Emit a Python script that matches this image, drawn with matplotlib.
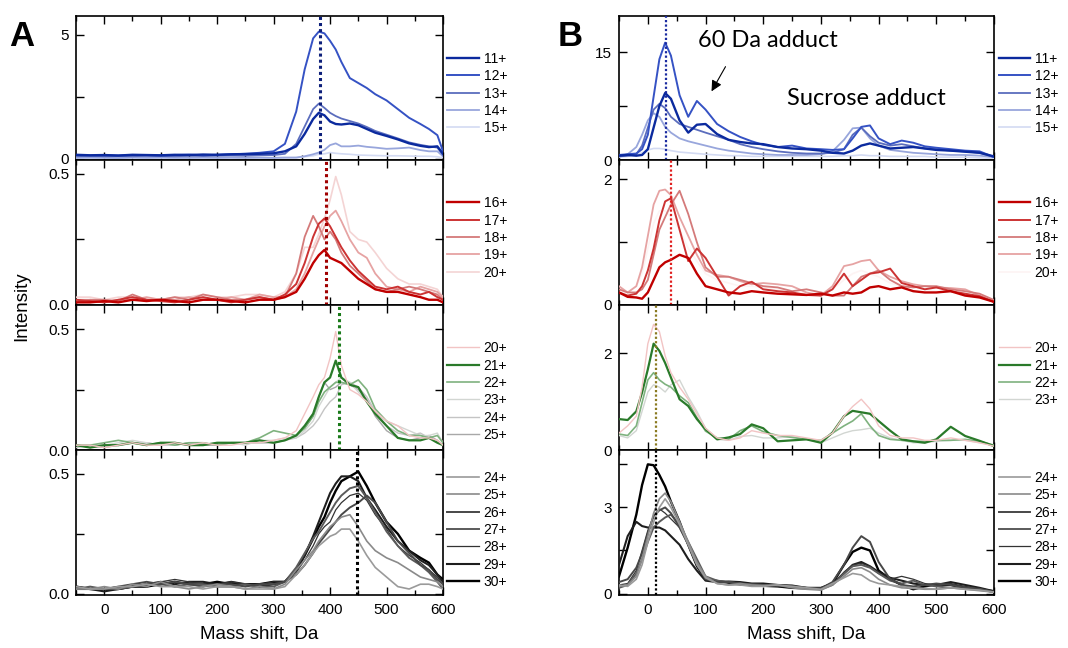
import matplotlib.pyplot as plt
from matplotlib.ticker import MultipleLocator

plt.rcParams['font.family'] = ['Liberation Sans', 'DejaVu Sans']

# mass shift grids (Da)
mass_a = [-50, -25, 0, 25, 50, 75, 100, 125, 150, 175, 200, 225, 250, 275, 300,
          320, 340, 355, 370, 380, 390, 400, 410, 420, 435, 450, 465, 480, 500,
          520, 540, 560, 575, 590, 600]
mass_b = [-50, -35, -20, -10, 0, 10, 20, 30, 40, 55, 70, 85, 100, 120, 140, 160,
          180, 200, 225, 250, 275, 300, 320, 340, 355, 370, 385, 400, 420, 440,
          460, 480, 500, 525, 550, 575, 600]

# ---- panel A ----
a_11 = [0.16, 0.14, 0.15, 0.13, 0.16, 0.15, 0.14, 0.16, 0.15, 0.17, 0.16, 0.18, 0.19, 0.2, 0.22,
        0.3, 0.5, 1.0, 1.6, 1.85, 1.75, 1.5, 1.4, 1.38, 1.42, 1.35, 1.2, 1.05, 0.92, 0.78, 0.62, 0.52, 0.47, 0.5, 0.2]
a_12 = [0.15, 0.13, 0.14, 0.13, 0.15, 0.14, 0.13, 0.15, 0.17, 0.14, 0.16, 0.18, 0.2, 0.24, 0.3,
        0.6, 1.9, 3.6, 4.85, 5.12, 5.05, 4.75, 4.4, 3.9, 3.25, 3.05, 2.85, 2.6, 2.35, 2.0, 1.65, 1.4, 1.2, 0.95, 0.3]
a_13 = [0.1, 0.12, 0.1, 0.11, 0.1, 0.12, 0.11, 0.1, 0.12, 0.11, 0.12, 0.13, 0.12, 0.14, 0.15,
        0.2, 0.6, 1.3, 2.0, 2.22, 2.05, 1.85, 1.72, 1.62, 1.52, 1.42, 1.28, 1.12, 0.97, 0.82, 0.66, 0.56, 0.5, 0.45, 0.15]
a_14 = [0.04, 0.05, 0.04, 0.03, 0.05, 0.04, 0.05, 0.04, 0.04, 0.05, 0.04, 0.05, 0.04, 0.05, 0.04,
        0.05, 0.05, 0.1, 0.18, 0.25, 0.36, 0.55, 0.62, 0.5, 0.5, 0.53, 0.48, 0.45, 0.4, 0.42, 0.45, 0.35, 0.3, 0.3, 0.1]
a_15 = [0.03, 0.02, 0.03, 0.02, 0.03, 0.02, 0.03, 0.02, 0.03, 0.02, 0.03, 0.02, 0.03, 0.02, 0.03,
        0.03, 0.04, 0.08, 0.12, 0.18, 0.2, 0.25, 0.22, 0.2, 0.18, 0.15, 0.14, 0.13, 0.12, 0.12, 0.11, 0.1, 0.1, 0.08, 0.04]

a_16 = [0.01, 0.01, 0.015, 0.01, 0.02, 0.015, 0.02, 0.015, 0.01, 0.02, 0.02, 0.015, 0.01, 0.02, 0.02,
        0.03, 0.05, 0.1, 0.16, 0.19, 0.21, 0.18, 0.17, 0.16, 0.13, 0.1, 0.08, 0.06, 0.05, 0.05, 0.04, 0.03, 0.02, 0.02, 0.01]
a_17 = [0.02, 0.015, 0.01, 0.02, 0.03, 0.02, 0.015, 0.01, 0.02, 0.03, 0.02, 0.01, 0.02, 0.03, 0.02,
        0.04, 0.08, 0.16, 0.26, 0.31, 0.33, 0.3, 0.26, 0.22, 0.17, 0.13, 0.1, 0.07, 0.06, 0.07, 0.05, 0.04, 0.05, 0.03, 0.02]
a_18 = [0.01, 0.02, 0.02, 0.015, 0.04, 0.02, 0.02, 0.03, 0.02, 0.04, 0.03, 0.02, 0.02, 0.03, 0.02,
        0.03, 0.12, 0.26, 0.34, 0.3, 0.25, 0.28, 0.25, 0.2, 0.15, 0.12, 0.09, 0.06, 0.05, 0.06, 0.07, 0.06, 0.05, 0.04, 0.02]
a_19 = [0.02, 0.02, 0.01, 0.02, 0.02, 0.03, 0.02, 0.02, 0.03, 0.02, 0.02, 0.03, 0.02, 0.04, 0.03,
        0.03, 0.06, 0.12, 0.2, 0.25, 0.3, 0.34, 0.36, 0.32, 0.25, 0.2, 0.18, 0.12, 0.07, 0.06, 0.05, 0.07, 0.06, 0.05, 0.03]
a_20r = [0.03, 0.03, 0.02, 0.03, 0.03, 0.02, 0.02, 0.03, 0.03, 0.04, 0.03, 0.03, 0.04, 0.04, 0.03,
         0.05, 0.12, 0.22, 0.22, 0.27, 0.33, 0.4, 0.49, 0.42, 0.28, 0.25, 0.24, 0.2, 0.14, 0.1, 0.08, 0.08, 0.07, 0.06, 0.03]

a_20g = [0.02, 0.02, 0.01, 0.02, 0.03, 0.02, 0.02, 0.03, 0.02, 0.03, 0.02, 0.02, 0.03, 0.03, 0.04,
         0.05, 0.08, 0.15, 0.22, 0.27, 0.3, 0.38, 0.49, 0.35, 0.25, 0.23, 0.2, 0.16, 0.12, 0.1, 0.06, 0.05, 0.05, 0.04, 0.02]
a_21 = [0.02, 0.01, 0.02, 0.02, 0.03, 0.02, 0.03, 0.03, 0.02, 0.02, 0.03, 0.03, 0.03, 0.04, 0.03,
        0.04, 0.06, 0.1, 0.15, 0.22, 0.28, 0.3, 0.37, 0.3, 0.27, 0.26, 0.2, 0.15, 0.1, 0.05, 0.04, 0.04, 0.05, 0.03, 0.02]
a_22 = [0.02, 0.02, 0.03, 0.04, 0.03, 0.02, 0.03, 0.02, 0.03, 0.03, 0.02, 0.03, 0.03, 0.05, 0.08,
        0.07, 0.06, 0.09, 0.14, 0.2, 0.24, 0.26, 0.28, 0.28, 0.27, 0.29, 0.25, 0.17, 0.12, 0.08, 0.06, 0.06, 0.05, 0.06, 0.03]
a_23 = [0.02, 0.01, 0.02, 0.03, 0.04, 0.03, 0.02, 0.02, 0.03, 0.02, 0.03, 0.03, 0.02, 0.04, 0.04,
        0.05, 0.05, 0.08, 0.12, 0.18, 0.22, 0.26, 0.28, 0.3, 0.28, 0.24, 0.2, 0.15, 0.12, 0.1, 0.08, 0.06, 0.06, 0.07, 0.03]
a_24g = [0.01, 0.02, 0.02, 0.02, 0.03, 0.03, 0.02, 0.03, 0.02, 0.03, 0.02, 0.03, 0.03, 0.03, 0.03,
         0.04, 0.05, 0.07, 0.1, 0.13, 0.17, 0.2, 0.22, 0.27, 0.28, 0.26, 0.22, 0.16, 0.1, 0.07, 0.06, 0.07, 0.05, 0.04, 0.02]
a_25g = [0.02, 0.02, 0.01, 0.02, 0.03, 0.03, 0.02, 0.02, 0.03, 0.02, 0.02, 0.03, 0.03, 0.03, 0.03,
         0.04, 0.06, 0.09, 0.14, 0.22, 0.28, 0.25, 0.26, 0.28, 0.27, 0.25, 0.21, 0.14, 0.08, 0.05, 0.04, 0.05, 0.06, 0.04, 0.02]

a_24 = [0.03, 0.02, 0.02, 0.03, 0.03, 0.04, 0.03, 0.03, 0.03, 0.02, 0.03, 0.03, 0.02, 0.02, 0.02,
        0.03, 0.08, 0.12, 0.17, 0.2, 0.22, 0.24, 0.25, 0.27, 0.27, 0.22, 0.16, 0.11, 0.07, 0.03, 0.02, 0.04, 0.04, 0.03, 0.02]
a_25 = [0.02, 0.02, 0.03, 0.02, 0.04, 0.03, 0.05, 0.03, 0.02, 0.03, 0.04, 0.03, 0.02, 0.03, 0.02,
        0.04, 0.1, 0.14, 0.18, 0.22, 0.25, 0.28, 0.3, 0.32, 0.33, 0.28, 0.22, 0.18, 0.15, 0.13, 0.1, 0.07, 0.06, 0.05, 0.03]
a_26 = [0.03, 0.02, 0.02, 0.03, 0.04, 0.05, 0.04, 0.05, 0.04, 0.03, 0.04, 0.04, 0.03, 0.04, 0.04,
        0.05, 0.08, 0.12, 0.17, 0.21, 0.24, 0.27, 0.3, 0.33, 0.36, 0.38, 0.41, 0.38, 0.3, 0.22, 0.17, 0.12, 0.1, 0.06, 0.04]
a_27 = [0.02, 0.03, 0.02, 0.02, 0.03, 0.04, 0.04, 0.03, 0.04, 0.04, 0.03, 0.03, 0.04, 0.03, 0.03,
        0.05, 0.11, 0.17, 0.23, 0.26, 0.3, 0.34, 0.38, 0.41, 0.44, 0.45, 0.4, 0.34, 0.26, 0.2, 0.15, 0.12, 0.09, 0.05, 0.02]
a_28 = [0.03, 0.02, 0.02, 0.03, 0.03, 0.03, 0.05, 0.06, 0.05, 0.04, 0.04, 0.05, 0.04, 0.04, 0.05,
        0.05, 0.09, 0.14, 0.2, 0.25, 0.28, 0.3, 0.35, 0.38, 0.41, 0.42, 0.39, 0.33, 0.27, 0.2, 0.16, 0.13, 0.1, 0.07, 0.04]
a_29 = [0.02, 0.02, 0.01, 0.02, 0.03, 0.04, 0.05, 0.04, 0.05, 0.05, 0.04, 0.05, 0.04, 0.03, 0.04,
        0.05, 0.1, 0.16, 0.24, 0.3, 0.36, 0.42, 0.46, 0.49, 0.49, 0.47, 0.4, 0.35, 0.28, 0.22, 0.18, 0.14, 0.12, 0.08, 0.05]
a_30 = [0.03, 0.02, 0.02, 0.02, 0.03, 0.03, 0.04, 0.05, 0.04, 0.04, 0.05, 0.04, 0.04, 0.04, 0.05,
        0.05, 0.1, 0.16, 0.23, 0.28, 0.32, 0.38, 0.43, 0.47, 0.49, 0.51, 0.45, 0.38, 0.3, 0.25, 0.18, 0.15, 0.13, 0.08, 0.06]

# ---- panel B ----
b_11 = [0.6, 0.7, 0.6, 0.7, 1.5, 4.5, 7.5, 9.3, 8.5, 5.5, 3.8, 4.9, 5.0, 3.6, 2.8, 2.5, 2.3, 2.2, 1.8,
        1.6, 1.5, 1.3, 1.0, 0.9, 1.3, 2.0, 2.3, 2.0, 1.6, 1.7, 1.8, 1.6, 1.4, 1.3, 1.15, 1.0, 0.5]
b_12 = [0.7, 0.8, 0.9, 1.5, 3.5, 8.8, 14.0, 16.3, 14.5, 9.0, 6.0, 8.2, 7.0, 5.0, 4.0, 3.2, 2.6, 2.1, 1.8,
        2.0, 1.6, 1.5, 1.4, 1.5, 3.0, 4.6, 4.8, 3.0, 2.2, 2.7, 2.4, 1.9, 1.7, 1.5, 1.3, 1.2, 0.4]
b_13 = [0.5, 0.6, 0.8, 2.0, 4.5, 7.0, 7.8, 7.2, 6.0, 5.0, 4.6, 4.2, 3.8, 3.3, 2.8, 2.2, 1.8, 1.5, 1.2,
        1.0, 0.9, 0.9, 1.0, 1.5, 3.5, 4.5, 3.3, 2.4, 2.0, 2.2, 1.9, 1.6, 1.5, 1.3, 1.2, 1.0, 0.4]
b_14 = [0.5, 0.8, 1.8, 3.5, 5.5, 6.5, 6.0, 4.6, 3.8, 3.0, 2.6, 2.3, 2.0, 1.6, 1.3, 1.1, 0.9, 0.8, 0.7,
        0.7, 0.7, 0.8, 1.2, 2.8, 4.4, 4.5, 3.0, 2.0, 1.4, 1.2, 1.0, 0.9, 0.8, 0.7, 0.7, 0.6, 0.4]
b_15 = [0.4, 0.5, 0.7, 1.0, 1.4, 1.6, 1.6, 1.5, 1.3, 1.1, 1.0, 0.9, 0.8, 0.7, 0.6, 0.6, 0.5, 0.5, 0.5,
        0.5, 0.5, 0.5, 0.5, 0.6, 0.6, 0.7, 0.6, 0.6, 0.5, 0.5, 0.5, 0.5, 0.4, 0.4, 0.4, 0.3, 0.2]

b_16 = [0.2, 0.13, 0.12, 0.1, 0.2, 0.4, 0.6, 0.68, 0.72, 0.8, 0.75, 0.5, 0.3, 0.25, 0.2, 0.18, 0.22, 0.2, 0.18,
        0.17, 0.16, 0.18, 0.15, 0.2, 0.18, 0.2, 0.28, 0.3, 0.25, 0.28, 0.22, 0.2, 0.2, 0.22, 0.15, 0.12, 0.05]
b_17 = [0.2, 0.15, 0.18, 0.3, 0.55, 0.9, 1.35, 1.65, 1.7, 1.2, 0.7, 0.9, 0.75, 0.45, 0.15, 0.3, 0.37, 0.25, 0.22,
        0.2, 0.16, 0.15, 0.25, 0.5, 0.3, 0.4, 0.5, 0.52, 0.58, 0.35, 0.3, 0.25, 0.28, 0.22, 0.18, 0.14, 0.05]
b_18 = [0.25, 0.2, 0.2, 0.25, 0.4, 0.8, 1.2, 1.4, 1.6, 1.82, 1.45, 1.0, 0.6, 0.45, 0.45, 0.4, 0.35, 0.3, 0.28,
        0.22, 0.25, 0.2, 0.15, 0.15, 0.3, 0.45, 0.5, 0.55, 0.4, 0.3, 0.28, 0.3, 0.3, 0.25, 0.22, 0.18, 0.08]
b_19 = [0.3, 0.2, 0.3, 0.6, 1.1, 1.6, 1.82, 1.84, 1.75, 1.4, 1.1, 0.8, 0.55, 0.48, 0.45, 0.38, 0.33, 0.35, 0.33,
        0.3, 0.2, 0.15, 0.3, 0.62, 0.65, 0.7, 0.72, 0.55, 0.45, 0.38, 0.33, 0.3, 0.28, 0.27, 0.25, 0.15, 0.05]
b_20r = [0.2, 0.2, 0.3, 0.5, 0.9, 1.3, 1.5, 1.5, 1.4, 1.2, 0.9, 0.7, 0.5, 0.4, 0.35, 0.3, 0.3, 0.28, 0.25,
         0.22, 0.2, 0.2, 0.25, 0.4, 0.5, 0.55, 0.5, 0.45, 0.35, 0.3, 0.28, 0.25, 0.22, 0.2, 0.18, 0.12, 0.05]

b_20g = [0.35, 0.5, 0.7, 1.3, 2.2, 2.6, 2.45, 1.95, 1.6, 1.3, 1.05, 0.75, 0.45, 0.25, 0.2, 0.25, 0.4, 0.35, 0.3,
         0.3, 0.25, 0.2, 0.35, 0.7, 0.9, 1.05, 0.85, 0.5, 0.3, 0.25, 0.25, 0.2, 0.2, 0.25, 0.2, 0.15, 0.08]
b_21 = [0.64, 0.62, 0.8, 1.19, 1.67, 2.2, 2.05, 1.8, 1.5, 1.05, 0.91, 0.64, 0.43, 0.22, 0.26, 0.33, 0.53, 0.45, 0.18,
        0.2, 0.22, 0.15, 0.36, 0.7, 0.81, 0.78, 0.75, 0.6, 0.4, 0.22, 0.18, 0.15, 0.22, 0.48, 0.29, 0.19, 0.08]
b_22 = [0.33, 0.3, 0.5, 0.98, 1.45, 1.6, 1.45, 1.36, 1.3, 1.12, 0.98, 0.67, 0.39, 0.25, 0.22, 0.4, 0.5, 0.38, 0.3,
        0.26, 0.22, 0.2, 0.35, 0.5, 0.6, 0.75, 0.5, 0.3, 0.22, 0.2, 0.18, 0.18, 0.2, 0.2, 0.22, 0.18, 0.1]
b_23 = [0.3, 0.25, 0.4, 0.8, 1.2, 1.35, 1.3, 1.2, 1.35, 1.45, 1.1, 0.8, 0.45, 0.22, 0.2, 0.28, 0.3, 0.25, 0.25,
        0.28, 0.22, 0.15, 0.25, 0.35, 0.4, 0.42, 0.45, 0.35, 0.25, 0.2, 0.15, 0.15, 0.18, 0.2, 0.2, 0.15, 0.1]

b_24 = [0.3, 0.25, 0.5, 1.0, 1.8, 2.5, 3.0, 3.3, 3.0, 2.4, 1.7, 1.0, 0.55, 0.35, 0.3, 0.3, 0.25, 0.25, 0.3,
        0.25, 0.2, 0.15, 0.35, 0.55, 0.7, 0.65, 0.45, 0.35, 0.3, 0.25, 0.2, 0.18, 0.15, 0.2, 0.15, 0.12, 0.05]
b_25 = [0.25, 0.3, 0.6, 1.2, 2.0, 2.8, 3.3, 3.5, 3.2, 2.5, 1.8, 1.1, 0.6, 0.35, 0.3, 0.35, 0.3, 0.28, 0.3,
        0.2, 0.15, 0.12, 0.3, 0.6, 0.85, 0.9, 0.75, 0.5, 0.3, 0.2, 0.18, 0.15, 0.15, 0.2, 0.15, 0.1, 0.05]
b_26 = [0.4, 0.5, 0.9, 1.4, 2.1, 2.7, 2.9, 3.0, 2.8, 2.3, 1.7, 1.0, 0.5, 0.4, 0.4, 0.35, 0.3, 0.3, 0.3,
        0.25, 0.2, 0.18, 0.4, 1.0, 1.6, 2.0, 1.8, 1.1, 0.5, 0.3, 0.25, 0.3, 0.35, 0.3, 0.2, 0.15, 0.05]
b_27 = [0.2, 0.3, 0.7, 1.2, 1.8, 2.3, 2.5, 2.65, 2.75, 2.4, 1.8, 1.2, 0.6, 0.45, 0.4, 0.35, 0.32, 0.3, 0.28,
        0.25, 0.2, 0.15, 0.3, 0.7, 0.95, 1.0, 0.9, 0.7, 0.45, 0.35, 0.45, 0.3, 0.25, 0.2, 0.2, 0.15, 0.05]
b_28 = [0.3, 0.35, 0.8, 1.5, 2.2, 2.7, 2.95, 2.8, 2.6, 2.3, 1.7, 1.1, 0.55, 0.4, 0.38, 0.35, 0.3, 0.3, 0.25,
        0.22, 0.2, 0.18, 0.3, 0.75, 1.0, 1.05, 0.95, 0.7, 0.5, 0.6, 0.5, 0.35, 0.3, 0.35, 0.25, 0.18, 0.08]
b_29 = [1.0, 2.0, 2.5, 2.35, 2.3, 2.3, 2.3, 2.2, 2.0, 1.7, 1.2, 0.8, 0.45, 0.4, 0.42, 0.4, 0.35, 0.35, 0.3,
        0.28, 0.2, 0.2, 0.35, 0.7, 1.0, 1.1, 0.95, 0.75, 0.55, 0.45, 0.35, 0.3, 0.3, 0.4, 0.3, 0.2, 0.08]
b_30 = [0.6, 1.6, 2.75, 3.78, 4.5, 4.47, 4.13, 3.73, 3.2, 2.5, 1.7, 0.96, 0.5, 0.44, 0.38, 0.32, 0.3, 0.27, 0.25,
        0.2, 0.18, 0.18, 0.35, 1.0, 1.45, 1.6, 1.5, 0.8, 0.5, 0.3, 0.15, 0.25, 0.32, 0.3, 0.2, 0.15, 0.08]

# labels per row
labels_blue = ['11+', '12+', '13+', '14+', '15+']
labels_red = ['16+', '17+', '18+', '19+', '20+']
labels_green_a = ['20+', '21+', '22+', '23+', '24+', '25+']
labels_green_b = ['20+', '21+', '22+', '23+']
labels_black = ['24+', '25+', '26+', '27+', '28+', '29+', '30+']

colors_blue = ['#0b2a9e', '#3552c4', '#5b6dbd', '#98a6dc', '#d3daf2']
colors_red = ['#c00000', '#cc3333', '#d47a7a', '#e6a3a3', '#f4d4d4']
colors_red_b = ['#c00000', '#cc3333', '#d47a7a', '#e6a3a3', '#fdf4f4']
colors_green = ['#f2c4c4', '#2a7a2a', '#7fb27f', '#d2d6d2', '#c4c4c4', '#a8a8a8']
colors_black = ['#9a9a9a', '#8a8a8a', '#484848', '#5a5a5a', '#333333', '#1e1e1e', '#000000']

widths_blue = [1.7, 1.4, 1.3, 1.3, 1.2]
widths_red = [1.7, 1.4, 1.3, 1.3, 1.2]
widths_green = [1.0, 1.6, 1.2, 1.0, 1.0, 1.0]
widths_black = [1.2, 1.2, 1.4, 1.4, 0.9, 1.5, 1.7]

# dotted markers (Da)
mark_a = [382, 392, 415, 447]
mark_b = [31, 40, 14, 14]
mark_colors_a = ['#0d1f7a', '#a00000', '#1a7a1a', '#000000']
mark_colors_b = ['#1a2aa0', '#e02020', '#8a7a20', '#000000']

W, H = 1068, 648
rows_px = [(16, 160), (160, 305), (305, 450), (450, 595)]
fig = plt.figure(figsize=(W / 100, H / 100), dpi=100)


def add_ax(x0, x1, y0, y1):
    return fig.add_axes([x0 / W, 1 - y1 / H, (x1 - x0) / W, (y1 - y0) / H])


def panel(ax, x, series, labels, colors, widths, ylim, yticks, ylabels,
          mark, mark_color, mark_lw, leg_top, bottom):
    n = len(series)
    for i, (y, lab, c, lw) in enumerate(zip(series, labels, colors, widths)):
        ax.plot(x, y, color=c, lw=lw, label=lab, zorder=3 + (n - i) * 0.1)
    ax.axvline(mark, color=mark_color, lw=mark_lw, ls=(0, (1, 1)), zorder=5)
    ax.set_xlim(-50, 600)
    ax.set_ylim(*ylim)
    ax.set_yticks(yticks)
    ax.set_yticklabels(ylabels)
    ax.xaxis.set_major_locator(MultipleLocator(100))
    ax.xaxis.set_minor_locator(MultipleLocator(50))
    ax.tick_params(which='both', direction='in', top=True, right=True,
                   labelsize=11, width=1.0)
    ax.tick_params(which='major', length=6, pad=6)
    ax.tick_params(which='minor', length=3.5)
    ax.tick_params(axis='y', pad=5)
    if not bottom:
        ax.tick_params(axis='x', labelbottom=False)
    for s in ax.spines.values():
        s.set_linewidth(1.2)
    ax.legend(loc='upper left', bbox_to_anchor=(1.012, leg_top), frameon=False,
              fontsize=10, handlelength=2.3, handletextpad=0.3,
              labelspacing=0.24, borderpad=0, borderaxespad=0)


# panel A
ax = add_ax(76, 443, *rows_px[0])
panel(ax, mass_a, [a_11, a_12, a_13, a_14, a_15], labels_blue, colors_blue, widths_blue,
      (-0.05, 5.75), [0, 2.5, 5], ['0', '', '5'], mark_a[0], mark_colors_a[0], 2.2, 0.75, False)
ax = add_ax(76, 443, *rows_px[1])
panel(ax, mass_a, [a_16, a_17, a_18, a_19, a_20r], labels_red, colors_red, widths_red,
      (0, 0.553), [0, 0.25, 0.5], ['0.0', '', '0.5'], mark_a[1], mark_colors_a[1], 2.2, 0.75, False)
ax = add_ax(76, 443, *rows_px[2])
panel(ax, mass_a, [a_20g, a_21, a_22, a_23, a_24g, a_25g], labels_green_a, colors_green, widths_green,
      (0, 0.6), [0, 0.25, 0.5], ['0.0', '', '0.5'], mark_a[2], mark_colors_a[2], 2.2, 0.75, False)
ax = add_ax(76, 443, *rows_px[3])
panel(ax, mass_a, [a_24, a_25, a_26, a_27, a_28, a_29, a_30], labels_black, colors_black, widths_black,
      (-0.005, 0.6), [0, 0.25, 0.5], ['0.0', '', '0.5'], mark_a[3], mark_colors_a[3], 2.2, 0.855, True)
ax.set_xlabel('Mass shift, Da', fontsize=13.5, labelpad=6)

# panel B
ax = add_ax(619, 994, *rows_px[0])
panel(ax, mass_b, [b_11, b_12, b_13, b_14, b_15], labels_blue, colors_blue, widths_blue,
      (0, 20), [0, 7.5, 15], ['0', '', '15'], mark_b[0], mark_colors_b[0], 1.6, 0.75, False)
ax.text(87, 16.6, '60 Da adduct', family=['Lato', 'DejaVu Sans'], fontsize=17, va='center')
ax.text(242, 8.5, 'Sucrose adduct', family=['Lato', 'DejaVu Sans'], fontsize=17, va='center')
ax.annotate('', xy=(108, 9.2), xytext=(137, 13.3),
            arrowprops=dict(arrowstyle='-|>', color='k', lw=0.8, mutation_scale=16))
ax = add_ax(619, 994, *rows_px[1])
panel(ax, mass_b, [b_16, b_17, b_18, b_19, b_20r], labels_red, colors_red_b, widths_red,
      (0, 2.31), [0, 1, 2], ['0', '', '2'], mark_b[1], mark_colors_b[1], 1.6, 0.75, False)
ax = add_ax(619, 994, *rows_px[2])
panel(ax, mass_b, [b_20g, b_21, b_22, b_23], labels_green_b, colors_green[:4], widths_green[:4],
      (0, 3.0), [0, 1, 2], ['0', '', '2'], mark_b[2], mark_colors_b[2], 1.6, 0.75, False)
ax = add_ax(619, 994, *rows_px[3])
panel(ax, mass_b, [b_24, b_25, b_26, b_27, b_28, b_29, b_30], labels_black, colors_black, widths_black,
      (-0.05, 5.0), [0, 1.5, 3, 4.5], ['0', '', '3', ''], mark_b[3], mark_colors_b[3], 1.6, 0.855, True)
ax.set_xlabel('Mass shift, Da', fontsize=13.5, labelpad=6)

fig.text(22 / W, 1 - 306 / H, 'Intensity', rotation=90, fontsize=13.5, ha='center', va='center')
fig.text(22 / W, 1 - 37 / H, 'A', fontsize=25, fontweight='bold', ha='center', va='center')
fig.text(570 / W, 1 - 37 / H, 'B', fontsize=25, fontweight='bold', ha='center', va='center')

fig.savefig('out.png', dpi=100)
